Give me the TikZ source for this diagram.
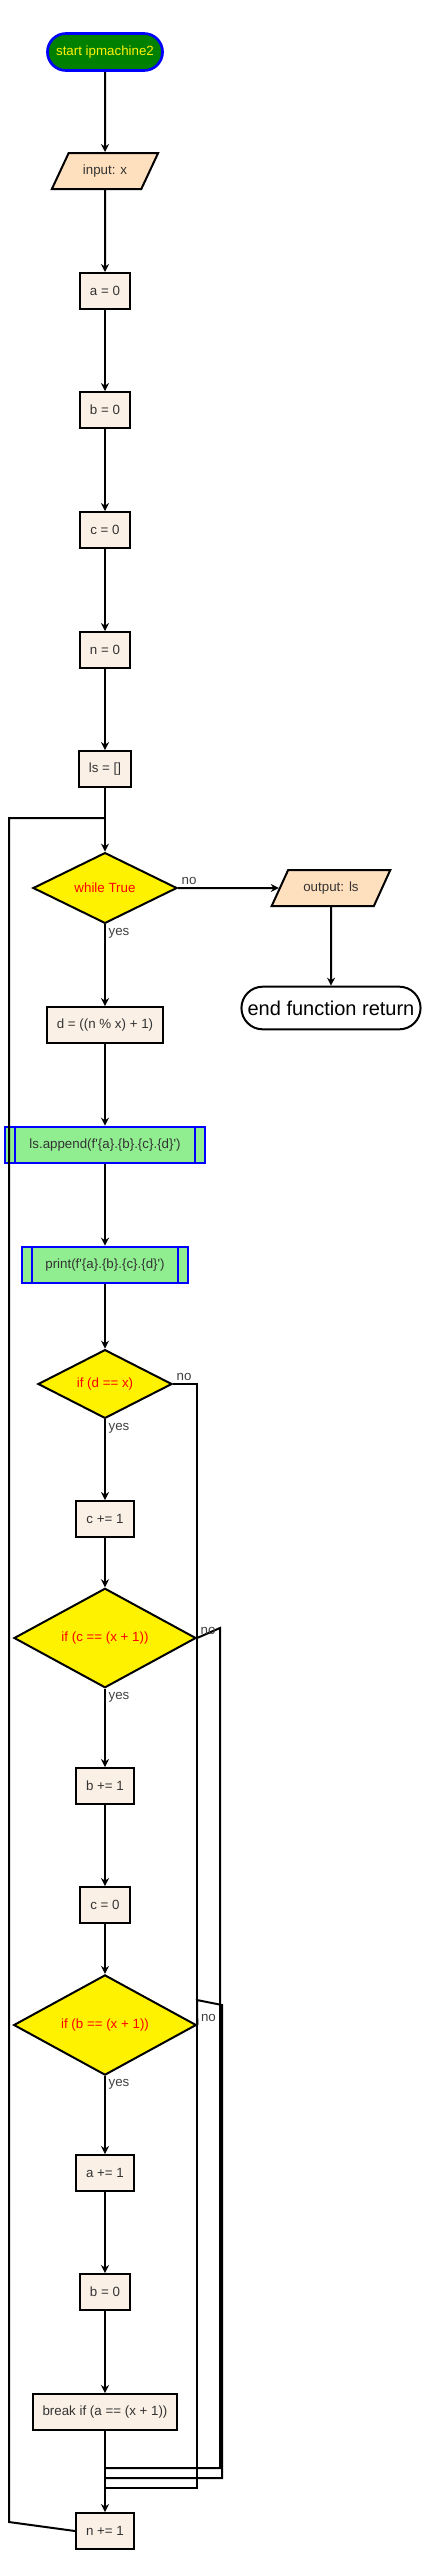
\documentclass[tikz,border=0pt]{standalone}
\usepackage{fontspec}
\newfontfamily\flowfont{Liberation Sans}
\usetikzlibrary{shapes.geometric,shapes.misc,arrows.meta}
\definecolor{procfill}{HTML}{FAF0E6}
\definecolor{iofill}{HTML}{FFE0BE}
\definecolor{subfill}{HTML}{90EE90}
\definecolor{startfill}{HTML}{008000}
\tikzset{
  proc/.style={draw, line width=1.5pt, fill=procfill, text=black!80, minimum height=27pt, inner xsep=7.5pt},
  io/.style={draw, line width=1.5pt, fill=iofill, text=black!80, trapezium, trapezium left angle=60, trapezium right angle=120, trapezium stretches=true, minimum height=27pt},
  cond/.style={draw, line width=1.5pt, fill=yellow, text=red, diamond, inner sep=0pt},
  subr/.style={draw=blue, line width=1.5pt, fill=subfill, text=black!80, minimum height=27.5pt},
  term/.style={draw, line width=1.5pt, rounded rectangle},
  lbl/.style={text=black!75, inner sep=2pt}
}
\begin{document}
\begin{tikzpicture}[x=0.75pt,y=-0.75pt,>={Stealth[length=6pt,width=6pt]},line width=1.5pt,font=\flowfont\fontsize{10}{12}\selectfont]
\def \xm{105};
\def \xo{331};
\def \xl{9};
\useasboundingbox (0,0) rectangle (428,2552);
% main column
\node[term, draw=blue, line width=2pt, fill=startfill, text=yellow, minimum width=93pt, minimum height=27.75pt] (start) at (\xm,52) {start ipmachine2};
\node[io, minimum width=80pt] (inx) at (\xm,171) {input: x};
\node[proc] (a0) at (\xm,291) {a = 0};
\node[proc] (b0) at (\xm,410) {b = 0};
\node[proc] (c0) at (\xm,530) {c = 0};
\node[proc] (n0) at (\xm,650) {n = 0};
\node[proc] (ls0) at (\xm,769) {ls = []};
\node[cond, minimum width=108pt, minimum height=52.5pt] (wh) at (\xm,888) {while True};
\node[io, minimum width=89pt] (outls) at (\xo,888) {output: ls};
\node[term, minimum width=141pt, minimum height=32pt, font=\flowfont\fontsize{15}{18}\selectfont] (fin) at (\xo,1008) {end function return};
\node[proc] (dset) at (\xm,1025) {d = ((n \% x) + 1)};
\node[subr, minimum width=150pt] (app) at (\xm,1145) {ls.append(f'\{a\}.\{b\}.\{c\}.\{d\}')};
\node[subr, minimum width=124.5pt] (prt) at (\xm,1265) {print(f'\{a\}.\{b\}.\{c\}.\{d\}')};
\foreach \s in {app,prt} {
  \draw[blue] ([xshift=8pt]\s.north west) -- ([xshift=8pt]\s.south west);
  \draw[blue] ([xshift=-8pt]\s.north east) -- ([xshift=-8pt]\s.south east);
}
\node[cond, minimum width=100.5pt, minimum height=49.5pt] (ifd) at (\xm,1384) {if (d == x)};
\node[proc] (cinc) at (\xm,1519) {c += 1};
\node[cond, minimum width=136.5pt, minimum height=67.5pt] (ifc) at (\xm,1638) {if (c == (x + 1))};
\node[proc] (binc) at (\xm,1786) {b += 1};
\node[proc] (cset) at (\xm,1905) {c = 0};
\node[cond, minimum width=137pt, minimum height=67.5pt] (ifb) at (\xm,2025) {if (b == (x + 1))};
\node[proc] (ainc) at (\xm,2173) {a += 1};
\node[proc] (bset) at (\xm,2292) {b = 0};
\node[proc] (brk) at (\xm,2412) {break if (a == (x + 1))};
\node[proc] (ninc) at (\xm,2531) {n += 1};
% straight connectors
\draw[->] (start) -- (inx);
\draw[->] (inx) -- (a0);
\draw[->] (a0) -- (b0);
\draw[->] (b0) -- (c0);
\draw[->] (c0) -- (n0);
\draw[->] (n0) -- (ls0);
\draw[->] (ls0) -- (wh);
\draw[->] (wh.east) node[lbl, above right] {no} -- (outls.west);
\draw[->] (outls) -- (fin);
\draw[->] (wh.south) node[lbl, below right] {yes} -- (dset);
\draw[->] (dset) -- (app);
\draw[->] (app) -- (prt);
\draw[->] (prt) -- (ifd);
\draw[->] (ifd.south) node[lbl, below right] {yes} -- (cinc);
\draw[->] (cinc) -- (ifc);
\draw[->] (ifc.south) node[lbl, below right] {yes} -- (binc);
\draw[->] (binc) -- (cset);
\draw[->] (cset) -- (ifb);
\draw[->] (ifb.south) node[lbl, below right] {yes} -- (ainc);
\draw[->] (ainc) -- (bset);
\draw[->] (bset) -- (brk);
\draw[->] (brk) -- (ninc);
% no branches
\draw (ifd.east) node[lbl, above right] {no} -- (197,1384) -- (197,2488) -- (\xm,2488);
\draw (ifc.east) node[lbl, above right] {no} -- (220,1628) -- (220,2468) -- (\xm,2468);
\draw (ifb.east) node[lbl, above right] {no} -- (197,2000) -- (222,2005) -- (222,2478) -- (\xm,2478);
% loop back
\draw (ninc.west) -- (\xl,2522) -- (\xl,818) -- (\xm,818);
\end{tikzpicture}
\end{document}
